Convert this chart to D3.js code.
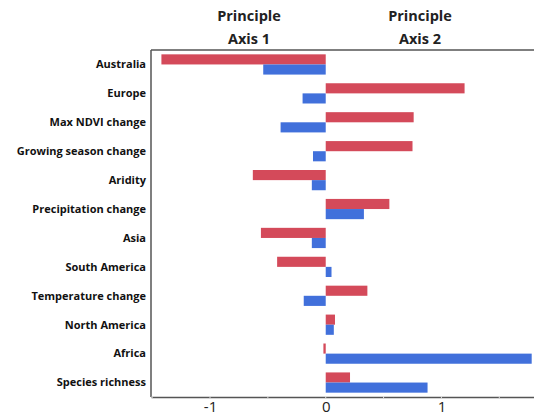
<!DOCTYPE html>
<html>
<head>
<meta charset="utf-8">
<script src="https://cdn.jsdelivr.net/npm/d3@7"></script>
<style>
  html, body { margin: 0; padding: 0; background: #fff; }
  svg { display: block; }
</style>
</head>
<body>
<div id="chart"></div>
<script>
const categories = ["Australia", "Europe", "Max NDVI change", "Growing season change", "Aridity",
  "Precipitation change", "Asia", "South America", "Temperature change", "North America",
  "Africa", "Species richness"];
const axis1Values = [-1.42, 1.20, 0.76, 0.75, -0.63, 0.55, -0.56, -0.42, 0.36, 0.08, -0.02, 0.21];
const axis2Values = [-0.54, -0.20, -0.39, -0.11, -0.12, 0.33, -0.12, 0.05, -0.19, 0.07, 1.78, 0.88];
const seriesNames = ["Principle Axis 1", "Principle Axis 2"];
const tickValues = [-1, 0, 1];
const minorTickValues = [-1.5, -1, -0.5, 0, 0.5, 1, 1.5];

const W = 534, H = 419;
const margin = { left: 151, right: 0, top: 50, bottom: 22 };

const svg = d3.select("#chart").append("svg").attr("width", W).attr("height", H);

const x = d3.scaleLinear().domain([-1.51, 1.80]).range([margin.left, W]);
const y = d3.scaleBand().domain(categories).range([margin.top, H - margin.bottom])
  .paddingInner(0.3).paddingOuter(0.15);
const sub = d3.scaleBand().domain([0, 1]).range([0, y.bandwidth()]);

const colors = ["#d44a5a", "#4170db"];
const rows = categories.map((c, i) => ({ c, v: [axis1Values[i], axis2Values[i]] }));

const g = svg.append("g");
rows.forEach(r => {
  r.v.forEach((v, k) => {
    g.append("rect")
      .attr("x", x(Math.min(0, v)))
      .attr("y", y(r.c) + sub(k))
      .attr("width", Math.abs(x(v) - x(0)))
      .attr("height", sub.bandwidth())
      .attr("fill", colors[k]);
  });
});

// frame
const bottomY = H - margin.bottom;
svg.append("line").attr("x1", margin.left).attr("x2", W).attr("y1", margin.top).attr("y2", margin.top)
  .attr("stroke", "#555").attr("stroke-width", 1.5);
svg.append("line").attr("x1", margin.left).attr("x2", margin.left).attr("y1", margin.top).attr("y2", bottomY)
  .attr("stroke", "#555").attr("stroke-width", 1.5);

// bottom axis
const xAxis = d3.axisBottom(x).tickValues(tickValues).tickSize(0).tickPadding(4).tickFormat(d => String(d));
const ax = svg.append("g").attr("transform", `translate(0,${bottomY})`).call(xAxis);
ax.select(".domain").attr("stroke", "#555").attr("stroke-width", 1.5);
ax.selectAll("text").attr("font-family", "'Open Sans', sans-serif").attr("font-size", 15)
  .attr("fill", "#222");
ax.selectAll(".minor").data(minorTickValues).enter().append("line")
  .attr("x1", d => x(d)).attr("x2", d => x(d)).attr("y1", -1).attr("y2", 1)
  .attr("stroke", "#ddd").attr("stroke-width", 1);

// category labels
svg.append("g").selectAll("text").data(categories).enter().append("text")
  .attr("x", 146).attr("y", d => y(d) + y.bandwidth() / 2)
  .attr("dy", "0.35em").attr("text-anchor", "end")
  .attr("font-family", "'Open Sans', sans-serif").attr("font-weight", "bold").attr("font-size", 11)
  .attr("fill", "#111")
  .text(d => d);

// titles
const titleX = [249, 420];
seriesNames.forEach((s, i) => {
  const parts = s.split(" ");
  const t = svg.append("text").attr("text-anchor", "middle")
    .attr("font-family", "'Open Sans', sans-serif").attr("font-weight", "bold").attr("font-size", 14.5)
    .attr("fill", "#222");
  t.append("tspan").attr("x", titleX[i]).attr("y", 21).text(parts[0]);
  t.append("tspan").attr("x", titleX[i]).attr("y", 44).text(parts.slice(1).join(" "));
});
</script>
</body>
</html>
